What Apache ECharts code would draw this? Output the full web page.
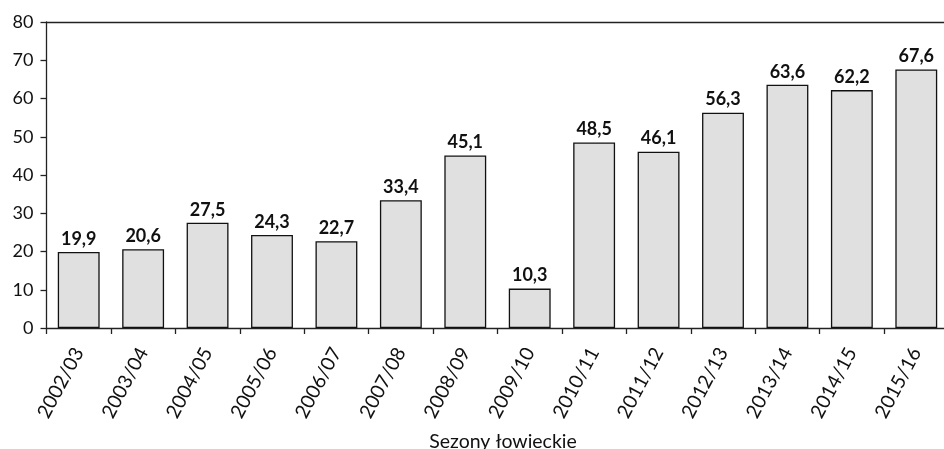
<!DOCTYPE html>
<html><head><meta charset="utf-8">
<script src="https://cdn.jsdelivr.net/npm/echarts@6/dist/echarts.min.js"></script>
<style>html,body{margin:0;padding:0;background:#fff}#c{width:944px;height:449px}</style>
</head><body><div id="c"></div>
<script>
const categories = ['2002/03','2003/04','2004/05','2005/06','2006/07','2007/08','2008/09','2009/10','2010/11','2011/12','2012/13','2013/14','2014/15','2015/16'];
const values = [19.9,20.6,27.5,24.3,22.7,33.4,45.1,10.3,48.5,46.1,56.3,63.6,62.2,67.6];
const xTitle = 'Sezony łowieckie';
const FONT = 'Lato, "Open Sans", sans-serif';
const chart = echarts.init(document.getElementById('c'));
chart.setOption({
  animation: false,
  grid: { left: 46.5, top: 22, width: 902, height: 306, containLabel: false, outerBoundsMode: 'none' },
  xAxis: [{
    type: 'category', data: categories,
    name: xTitle, nameLocation: 'middle', nameGap: 104,
    nameTextStyle: { fontFamily: FONT, fontSize: 19.5, color: '#111', padding: [0, 0, 0, 11] },
    axisLine: { lineStyle: { color: '#222', width: 1.3 } },
    axisTick: { show: true, length: 6, alignWithLabel: false, lineStyle: { color: '#222', width: 1.3 } },
    axisLabel: { rotate: 62, fontFamily: FONT, fontSize: 19.5, color: '#111', margin: 21 }
  }, {
    type: 'category', data: categories, position: 'top',
    axisLine: { show: true, lineStyle: { color: '#222', width: 1.3 } },
    axisTick: { show: false }, axisLabel: { show: false }, splitLine: { show: false }
  }],
  yAxis: {
    type: 'value', min: 0, max: 80, interval: 10,
    axisLine: { show: true, lineStyle: { color: '#222', width: 1.3 } },
    axisTick: { show: true, length: 6, lineStyle: { color: '#222', width: 1.3 } },
    splitLine: { show: false },
    axisLabel: { fontFamily: FONT, fontSize: 18, color: '#111', margin: 13 }
  },
  series: [{
    type: 'bar', data: values, barCategoryGap: '35%', xAxisIndex: 0,
    itemStyle: { color: '#e0e0e0', borderColor: '#111', borderWidth: 1.3 },
    label: { show: true, position: 'top', distance: 4, fontFamily: FONT, fontSize: 18, fontWeight: 'bold', color: '#111',
      formatter: p => String(p.value).replace('.', ',') }
  }]
});
</script></body></html>
